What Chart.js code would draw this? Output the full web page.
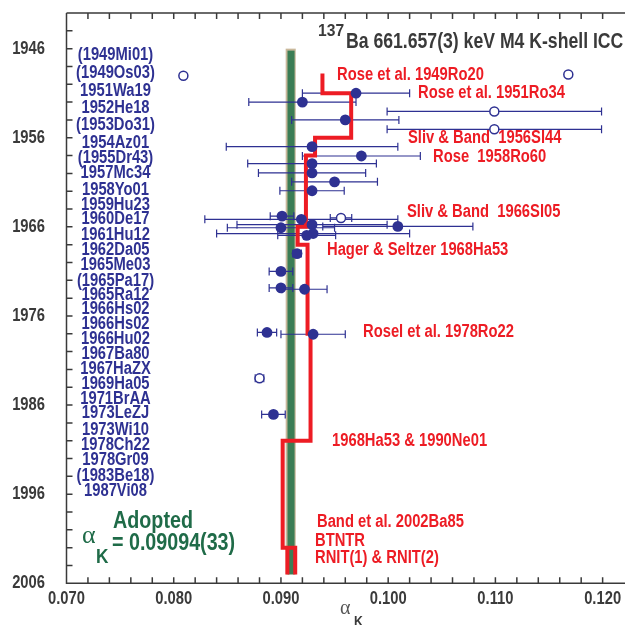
<!DOCTYPE html>
<html>
<head>
<meta charset="utf-8">
<script src="https://cdn.jsdelivr.net/npm/chart.js@4.4.0/dist/chart.umd.min.js"></script>
<style>
  html, body { margin: 0; padding: 0; background: #fff; }
  #wrap { width: 629px; height: 625px; position: relative; }
</style>
</head>
<body>
<div id="wrap"><canvas id="icc"></canvas></div>
<script>
// measured alpha_K values, plotted at (approx.) publication year
const usedYear  = [1951.0, 1952.0, 1954.0, 1957.0, 1958.05, 1958.9, 1959.95, 1960.95, 1961.95,
                   1964.8, 1965.15, 1965.75, 1965.95, 1966.1, 1966.75, 1966.95,
                   1969.0, 1971.0, 1972.85, 1973.0, 1977.85, 1978.05, 1987.05];
const usedValue = [0.0970, 0.0920, 0.0960, 0.0929, 0.0975, 0.0929, 0.0929, 0.0950, 0.0929,
                   0.0901, 0.0919, 0.0929, 0.1009, 0.0900, 0.0930, 0.0924,
                   0.0915, 0.0900, 0.0900, 0.0922, 0.0887, 0.0930, 0.0893];
const usedError = [0.0050, 0.0050, 0.0050, 0.0080, 0.0055, 0.0060, 0.0050, 0.0040, 0.0030,
                   0.0011, 0.0090, 0.0070, 0.0070, 0.0050, 0.0090, 0.0027,
                   0.0004, 0.0011, 0.0011, 0.0021, 0.0009, 0.0030, 0.0011];

// values in parentheses / not used (open circles)
const omitYear  = [1949.05, 1948.9, 1953.05, 1955.05, 1965.0, 1983.0];
const omitValue = [0.0809, 0.1168, 0.1099, 0.1099, 0.0956, 0.0880];
const omitError = [0, 0, 0.0100, 0.0100, 0.0010, 0.0004];

// theoretical values, step line through time
const theoryYear  = [1948.8, 1951, 1951, 1956, 1956, 1958, 1958, 1966, 1966, 1968, 1968, 1978, 1978, 1990, 1990, 2002, 2002, 2005];
const theoryValue = [0.09387, 0.09387, 0.09655, 0.09655, 0.09318, 0.09318, 0.09233, 0.09233, 0.09156, 0.09156,
                     0.09248, 0.09248, 0.09276, 0.09276, 0.09016, 0.09016, 0.09133, 0.09133];
const rnitYear  = [2002, 2005];
const rnitValue = [0.0906, 0.0906];

const adopted = 0.09094;
const adoptedUnc = 0.00033;

const refs = ['(1949Mi01)', '(1949Os03)', '1951Wa19', '1952He18', '(1953Do31)', '1954Az01', '(1955Dr43)',
  '1957Mc34', '1958Yo01', '1959Hu23', '1960De17', '1961Hu12', '1962Da05', '1965Me03', '(1965Pa17)',
  '1965Ra12', '1966Hs02', '1966Hs02', '1966Hu02', '1967Ba80', '1967HaZX', '1969Ha05', '1971BrAA',
  '1973LeZJ', '1973Wi10', '1978Ch22', '1978Gr09', '(1983Be18)', '1987Vi08'];

const theoryNotes = ['Rose et al. 1949Ro20', 'Rose et al. 1951Ro34', 'Sliv & Band  1956Sl44', 'Rose  1958Ro60',
  'Sliv & Band  1966Sl05', 'Hager & Seltzer 1968Ha53', 'Rosel et al. 1978Ro22', '1968Ha53 & 1990Ne01',
  'Band et al. 2002Ba85', 'BTNTR', 'RNIT(1) & RNIT(2)'];

// layout only (pixels)
const refRowY = [55, 73, 91.5, 108.5, 125.5, 143, 158, 173.5, 190.5, 205, 219.5, 235, 250, 265, 281,
  295, 309.5, 324.5, 339.5, 354.5, 369.5, 384.5, 399.5, 413.5, 430, 445, 460, 476, 491.5];
const noteXY = [[337, 75], [418, 93], [408, 138], [433, 157], [407, 212.5], [327, 250], [363, 332.5],
  [332, 441.5], [317, 522.5], [315, 541.5], [315, 558.5]];

const SANS = "'Liberation Sans', Arial, sans-serif";
const NAVY = '#2e3192';
const RED = '#ed1c24';
const GREEN = '#1f6b48';
const AXIS = '#3a3a3a';

const xy = (xs, ys) => xs.map((v, i) => ({ x: v, y: ys[i] }));

// condensed text (no narrow font installed, so squeeze Liberation Sans)
function txt(ctx, s, x, y, align, sx = 0.82) {
  ctx.save();
  ctx.translate(x, y);
  ctx.scale(sx, 1);
  ctx.textAlign = align;
  ctx.fillText(s, 0, 0);
  ctx.restore();
}

const bandAndBars = {
  id: 'bandAndBars',
  beforeDatasetsDraw(chart) {
    const { ctx, scales: { x, y } } = chart;
    const top = y.getPixelForValue(1946), bot = y.getPixelForValue(2005);
    ctx.save();
    // adopted band
    let l = x.getPixelForValue(adopted - 0.00050), r = x.getPixelForValue(adopted + 0.00044);
    ctx.fillStyle = '#c9b89b';
    ctx.fillRect(l, top, r - l, bot - top);
    l = x.getPixelForValue(adopted - adoptedUnc);
    r = x.getPixelForValue(adopted + adoptedUnc);
    ctx.fillStyle = '#3b7d55';
    ctx.fillRect(l, top + 2, r - l, bot - top - 2);
    // error bars
    ctx.strokeStyle = NAVY;
    ctx.lineWidth = 1.2;
    const bars = (vals, errs, yrs) => vals.forEach((v, i) => {
      if (!errs[i]) return;
      const a = x.getPixelForValue(v - errs[i]), b = x.getPixelForValue(v + errs[i]);
      const py = y.getPixelForValue(yrs[i]);
      ctx.beginPath();
      ctx.moveTo(a, py); ctx.lineTo(b, py);
      ctx.moveTo(a, py - 4); ctx.lineTo(a, py + 4);
      ctx.moveTo(b, py - 4); ctx.lineTo(b, py + 4);
      ctx.stroke();
    });
    bars(usedValue, usedError, usedYear);
    bars(omitValue, omitError, omitYear);
    ctx.restore();
  }
};

const frame = {
  id: 'frame',
  afterDraw(chart) {
    const { ctx, chartArea: ca, scales: { x, y } } = chart;
    ctx.save();
    ctx.strokeStyle = AXIS;
    ctx.lineWidth = 1.5;
    ctx.beginPath();
    ctx.moveTo(ca.left, ca.top); ctx.lineTo(ca.left, ca.bottom); ctx.lineTo(ca.right + 2, ca.bottom);
    ctx.moveTo(ca.left, ca.top); ctx.lineTo(ca.right + 2, ca.top);
    x.ticks.forEach(t => {
      const p = x.getPixelForValue(t.value);
      ctx.moveTo(p, ca.bottom); ctx.lineTo(p, ca.bottom - 6);
      ctx.moveTo(p, ca.top); ctx.lineTo(p, ca.top + 6);
    });
    y.ticks.forEach(t => {
      const p = y.getPixelForValue(t.value);
      ctx.moveTo(ca.left, p); ctx.lineTo(ca.left + 6, p);
    });
    ctx.stroke();

    // tick labels
    ctx.fillStyle = AXIS;
    ctx.textBaseline = 'middle';
    ctx.font = 'bold 18px ' + SANS;
    x.ticks.forEach(t => {
      const v = t.value;
      if (Math.abs(v * 100 - Math.round(v * 100)) < 1e-6) txt(ctx, v.toFixed(3), x.getPixelForValue(v), 599, 'center');
    });
    y.ticks.forEach(t => {
      const v = Math.round(t.value);
      if ((v - 1946) % 10 === 0) txt(ctx, String(v), 45, y.getPixelForValue(v), 'right');
    });

    // reference list
    ctx.fillStyle = NAVY;
    refs.forEach((s, i) => txt(ctx, s, 115.5, refRowY[i], 'center'));

    // theory labels
    ctx.fillStyle = RED;
    theoryNotes.forEach((s, i) => txt(ctx, s, noteXY[i][0], noteXY[i][1], 'left'));

    // title
    ctx.fillStyle = AXIS;
    ctx.font = 'bold 17px ' + SANS;
    txt(ctx, '137', 318, 31, 'left', 0.92);
    ctx.font = 'bold 21.5px ' + SANS;
    txt(ctx, 'Ba 661.657(3) keV M4 K-shell ICC', 346, 42, 'left');

    // adopted value
    ctx.fillStyle = GREEN;
    ctx.font = 'bold 24px ' + SANS;
    txt(ctx, 'Adopted', 153, 521, 'center');
    ctx.font = '26px "Liberation Serif", serif';
    txt(ctx, '\u03b1', 82, 536, 'left', 1);
    ctx.font = 'bold 21px ' + SANS;
    txt(ctx, 'K', 96, 557, 'left');
    ctx.font = 'bold 24px ' + SANS;
    txt(ctx, '= 0.09094(33)', 112, 543, 'left');

    // x axis title
    ctx.fillStyle = '#555';
    ctx.font = '20px "Liberation Serif", serif';
    txt(ctx, '\u03b1', 340, 609, 'left', 1);
    ctx.fillStyle = AXIS;
    ctx.font = 'bold 15px ' + SANS;
    txt(ctx, 'K', 354, 622, 'left');
    ctx.restore();
  }
};

new Chart(document.getElementById('icc'), {
  type: 'scatter',
  data: {
    datasets: [
      {
        label: 'used',
        data: xy(usedValue, usedYear),
        pointRadius: 5.4,
        backgroundColor: NAVY,
        borderColor: NAVY,
        borderWidth: 0
      },
      {
        label: 'omitted',
        data: xy(omitValue, omitYear),
        pointRadius: 4.5,
        backgroundColor: '#fff',
        borderColor: NAVY,
        borderWidth: 1.5
      },
      {
        type: 'line',
        label: 'theory',
        data: xy(theoryValue, theoryYear),
        borderColor: RED,
        borderWidth: 4,
        borderJoinStyle: 'miter',
        pointRadius: 0,
        fill: false,
        tension: 0
      },
      {
        type: 'line',
        label: 'RNIT',
        data: xy(rnitValue, rnitYear),
        borderColor: RED,
        borderWidth: 4,
        pointRadius: 0,
        fill: false
      }
    ]
  },
  options: {
    responsive: true,
    maintainAspectRatio: false,
    animation: false,
    layout: { padding: { top: 13, right: 1, left: 0, bottom: 0 } },
    plugins: { legend: { display: false }, tooltip: { enabled: false } },
    scales: {
      x: {
        type: 'linear',
        min: 0.070,
        max: 0.1219,
        grid: { display: false },
        border: { display: false },
        ticks: { display: false, stepSize: 0.002, includeBounds: false },
        afterFit: s => { s.height = 41.7; }
      },
      y: {
        type: 'linear',
        min: 1942,
        max: 2006,
        reverse: true,
        grid: { display: false },
        border: { display: false },
        ticks: { display: false, stepSize: 2 },
        afterFit: s => { s.width = 66.5; }
      }
    }
  },
  plugins: [bandAndBars, frame]
});
</script>
</body>
</html>
